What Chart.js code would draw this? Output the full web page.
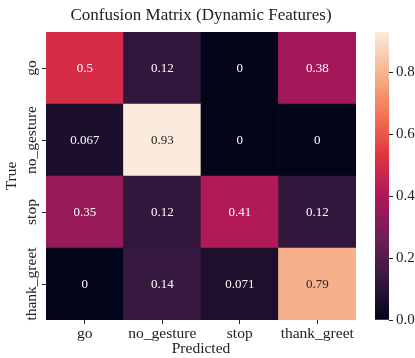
<!DOCTYPE html>
<html>
<head>
<meta charset="utf-8">
<script src="https://cdn.jsdelivr.net/npm/chart.js@4"></script>
<style>
  html, body { margin:0; padding:0; background:#fff; }
  #wrap { position:relative; width:415px; height:358px; overflow:hidden; }
  #wrap canvas { position:absolute; top:0; }
  #main { left:0; }
  #cbar { left:360px; }
</style>
</head>
<body>
<div id="wrap">
  <canvas id="main" width="370" height="358"></canvas>
  <canvas id="cbar" width="55" height="358"></canvas>
</div>
<script>
// confusion matrix (rows = true, cols = predicted)
const CLASSES     = ['go', 'no_gesture', 'stop', 'thank_greet'];
const GO          = [0.5,   0.12, 0,     0.38];
const NO_GESTURE  = [0.067, 0.93, 0,     0   ];
const STOP        = [0.35,  0.12, 0.41,  0.12];
const THANK_GREET = [0,     0.14, 0.071, 0.79];
const ROWS = [GO, NO_GESTURE, STOP, THANK_GREET];
const CBAR_TICKS  = [0.0, 0.2, 0.4, 0.6, 0.8];

const FONT = "'Liberation Serif', 'Times New Roman', serif";
const INK  = '#222';

// seaborn "rocket" stops
const ROCKET = [
  [0/7, [3, 5, 26]],   [1/7, [53, 25, 62]],  [2/7, [112, 31, 87]],
  [3/7, [173, 23, 89]], [4/7, [225, 51, 66]], [5/7, [243, 118, 81]],
  [6/7, [246, 180, 143]], [1, [250, 235, 221]],
];
const VMAX = Math.max(...ROWS.flat());

function rocket(t) {
  t = Math.min(1, Math.max(0, t));
  for (let i = 1; i < ROCKET.length; i++) {
    const [t1, c1] = ROCKET[i], [t0, c0] = ROCKET[i-1];
    if (t <= t1) {
      const f = (t - t0) / (t1 - t0);
      return c0.map((v, k) => Math.round(v + (c1[k] - v) * f));
    }
  }
  return ROCKET[ROCKET.length-1][1];
}
const rgb = c => `rgb(${c[0]},${c[1]},${c[2]})`;
function lum(c) {
  const l = c.map(v => { v /= 255; return v <= 0.03928 ? v/12.92 : Math.pow((v+0.055)/1.055, 2.4); });
  return 0.2126*l[0] + 0.7152*l[1] + 0.0722*l[2];
}

// bottom row first so the stack grows upward
const n = CLASSES.length;
const datasets = ROWS.slice().reverse().map(vals => ({
  data: vals.map(() => 1),
  values: vals,
  backgroundColor: vals.map(v => rgb(rocket(v / VMAX))),
  borderWidth: 0,
  barPercentage: 1,
  categoryPercentage: 1,
  stack: 'cm',
}));

const cellText = {
  id: 'cellText',
  afterDatasetsDraw(chart) {
    const ctx = chart.ctx;
    ctx.save();
    ctx.font = `13px ${FONT}`;
    ctx.textAlign = 'center';
    ctx.textBaseline = 'middle';
    chart.data.datasets.forEach((ds, di) => {
      chart.getDatasetMeta(di).data.forEach((bar, i) => {
        const v = ds.values[i];
        const { x, y, base } = bar.getProps(['x', 'y', 'base'], true);
        ctx.fillStyle = lum(rocket(v / VMAX)) > 0.408 ? '#262626' : '#fff';
        ctx.fillText(String(v), x, (y + base) / 2 + 1);
      });
    });
    ctx.restore();
  }
};

// rotated row labels on the left
const rowLabels = {
  id: 'rowLabels',
  afterDraw(chart) {
    const ctx = chart.ctx, ys = chart.scales.y;
    ctx.save();
    ctx.font = `15.5px ${FONT}`;
    ctx.fillStyle = INK;
    ctx.textAlign = 'center';
    ctx.textBaseline = 'alphabetic';
    CLASSES.forEach((name, r) => {
      const py = ys.getPixelForValue(n - r - 0.5);
      ctx.save();
      ctx.translate(36, py);
      ctx.rotate(-Math.PI / 2);
      ctx.fillText(name, 0, 0);
      ctx.restore();
    });
    ctx.restore();
  }
};

new Chart(document.getElementById('main'), {
  type: 'bar',
  data: { labels: CLASSES, datasets },
  plugins: [cellText, rowLabels],
  options: {
    responsive: false, animation: false, events: [],
    layout: { padding: { left: 0, right: 14, top: 0, bottom: 0 } },
    plugins: { legend: { display: false }, tooltip: { enabled: false } },
    scales: {
      x: {
        stacked: true,
        offset: true,
        grid: { offset: false, drawOnChartArea: false, tickLength: 4, color: INK },
        border: { display: false },
        ticks: { color: INK, padding: 1, font: { family: FONT, size: 15.5 }, maxRotation: 0 },
        title: { display: true, text: 'Predicted', color: INK,
                 font: { family: FONT, size: 15.5, lineHeight: 1.2 }, padding: { top: 0, bottom: 0 } },
        afterFit: s => { s.height = 38; },
      },
      // top axis only carries the heading, centred over the matrix
      top: {
        type: 'category', position: 'top', offset: true,
        grid: { display: false }, border: { display: false }, ticks: { display: false },
        title: { display: true, text: 'Confusion Matrix (Dynamic Features)', color: INK,
                 font: { family: FONT, size: 17, lineHeight: 1.2 }, padding: { top: 5, bottom: 0 } },
        afterFit: s => { s.height = 32; },
      },
      y: {
        stacked: true, min: 0, max: n,
        afterBuildTicks: s => { s.ticks = CLASSES.map((_, i) => ({ value: i + 0.5 })); },
        grid: { drawOnChartArea: false, tickLength: 4, color: INK },
        border: { display: false },
        ticks: { display: false },
        title: { display: true, text: 'True', color: INK,
                 font: { family: FONT, size: 15.5, lineHeight: 1.2 }, padding: { top: 3, bottom: 0 } },
        afterFit: s => { s.width = 46; },
      },
    },
  },
});

// colour bar
new Chart(document.getElementById('cbar'), {
  type: 'bar',
  data: {
    labels: [''],
    datasets: [{
      data: [VMAX],
      borderWidth: 0, barPercentage: 1, categoryPercentage: 1,
      backgroundColor: c => {
        const a = c.chart.chartArea;
        if (!a) return '#000';
        const g = c.chart.ctx.createLinearGradient(0, a.bottom, 0, a.top);
        ROCKET.forEach(([t, col]) => g.addColorStop(t, rgb(col)));
        return g;
      },
    }],
  },
  options: {
    responsive: false, animation: false, events: [],
    layout: { padding: { top: 32, bottom: 38, left: 15, right: 0 } },
    plugins: { legend: { display: false }, tooltip: { enabled: false } },
    scales: {
      x: { display: false },
      y: {
        position: 'right', min: 0, max: VMAX,
        afterBuildTicks: s => { s.ticks = CBAR_TICKS.map(v => ({ value: v })); },
        grid: { drawOnChartArea: false, tickLength: 4, color: INK },
        border: { display: false },
        ticks: { color: INK, padding: 3, font: { family: FONT, size: 15 }, callback: v => v.toFixed(1) },
        afterFit: s => { s.width = 26; },
      },
    },
  },
});
</script>
</body>
</html>
